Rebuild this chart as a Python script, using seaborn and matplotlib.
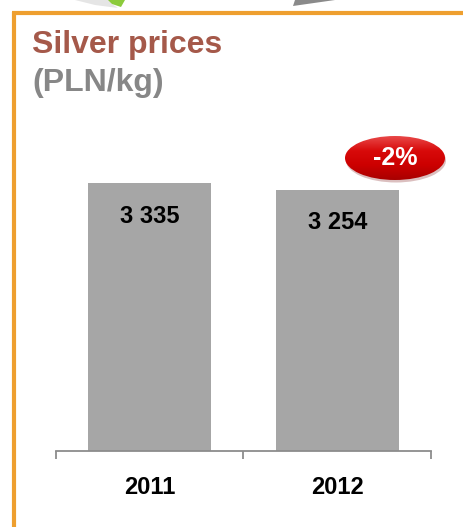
import numpy as np
import pandas as pd
import matplotlib
matplotlib.use("Agg")
import matplotlib.pyplot as plt
import seaborn as sns
from matplotlib.patches import Ellipse, Polygon
from matplotlib.lines import Line2D

# Data
years = ["2011", "2012"]
prices = [3335, 3254]
change_label = "-2%"
value_labels = ["3 335", "3 254"]

sns.set_theme(style="white")
plt.rcParams["font.family"] = ["Liberation Sans", "DejaVu Sans"]

W, H = 464, 527
fig = plt.figure(figsize=(W / 100, H / 100), dpi=100)
fig.patch.set_facecolor("white")

def fx(px):
    return px / W

def fy(py):
    return 1 - py / H

# Orange panel frame
orange = "#EE9F2F"
fig.add_artist(Line2D([fx(12), 1], [fy(13), fy(13)], color=orange, lw=3, solid_capstyle="butt"))
fig.add_artist(Line2D([fx(14), fx(14)], [fy(11.5), 0], color=orange, lw=3, solid_capstyle="butt"))

# Fragments of decorative arrows above the panel
fig.add_artist(Polygon([[fx(75), fy(0)], [fx(110), fy(0)], [fx(112), fy(4)], [fx(118), fy(8)], [fx(95), fy(5)]],
                       closed=True, facecolor="#DADADA", edgecolor="none", alpha=0.7))
fig.add_artist(Polygon([[fx(108), fy(0)], [fx(125), fy(0)], [fx(121), fy(7)], [fx(112), fy(4)]],
                       closed=True, facecolor="#8CCB3C", edgecolor="none"))
fig.add_artist(Polygon([[fx(295), fy(0)], [fx(335), fy(0)], [fx(300), fy(5)], [fx(293), fy(6)]],
                       closed=True, facecolor="#8A8A8A", edgecolor="none"))

# Title
fig.text(fx(32), fy(53), "Silver prices", color="#A5594A", fontsize=23,
         fontweight="bold", ha="left", va="baseline")
fig.text(fx(32), fy(91), "(PLN/kg)", color="#878787", fontsize=23,
         fontweight="bold", ha="left", va="baseline")

# Bar chart
ax = fig.add_axes([fx(56), fy(451), fx(431) - fx(56), fy(120) - fy(451)])
df = pd.DataFrame({"year": years, "price": prices})
sns.barplot(data=df, x="year", y="price", order=years, color="#A6A6A6",
            width=0.656, saturation=1, ax=ax, edgecolor="none")
ax.set_xlim(-0.5, 1.5)
ax.set_ylim(0, 4120)
ax.set_facecolor("none")
for s in ["top", "right", "left"]:
    ax.spines[s].set_visible(False)
ax.spines["bottom"].set_color("#8C8C8C")
ax.spines["bottom"].set_linewidth(1.3)
ax.set_yticks([])
ax.set_xlabel("")
ax.set_ylabel("")

# Category boundary ticks and centered year labels
ax.set_xticks([-0.5, 0.5, 1.5])
ax.set_xticklabels(["", "", ""])
ax.set_xticks([0, 1], minor=True)
ax.set_xticklabels(years, minor=True)
ax.tick_params(axis="x", which="major", direction="out", length=5.5, width=1.3,
               color="#8C8C8C", bottom=True)
ax.tick_params(axis="x", which="minor", length=0, pad=18, labelsize=17,
               labelcolor="black")
for lab in ax.get_xticklabels(minor=True):
    lab.set_fontweight("bold")

# Value labels inside the bars
for i, (v, lab) in enumerate(zip(prices, value_labels)):
    ax.annotate(lab, xy=(i, v), xytext=(0, -24), textcoords="offset points",
                ha="center", va="center", fontsize=17, fontweight="bold", color="black")

# Red badge with the year-on-year change, on a full-figure overlay in pixel units
ov = fig.add_axes([0, 0, 1, 1], zorder=5)
ov.set_xlim(0, W)
ov.set_ylim(H, 0)
ov.axis("off")
ov.patch.set_alpha(0)
cx, cy, ew, eh = 395, 158, 100, 44
ov.add_patch(Ellipse((cx + 1, cy + 2.5), ew, eh, facecolor="#700000", alpha=0.25,
                     edgecolor="none", zorder=1))
badge = Ellipse((cx, cy), ew, eh, facecolor="none", edgecolor="none", zorder=2)
ov.add_patch(badge)
grad = np.linspace(0, 1, 100).reshape(-1, 1)
cmap = matplotlib.colors.LinearSegmentedColormap.from_list(
    "badge", ["#E84848", "#D80A0A", "#CC0000", "#A80000"])
img = ov.imshow(grad, extent=[cx - ew / 2, cx + ew / 2, cy + eh / 2, cy - eh / 2],
                cmap=cmap, aspect="auto", zorder=2, interpolation="bilinear")
img.set_clip_path(badge)
ov.set_xlim(0, W)
ov.set_ylim(H, 0)
ov.text(cx, cy, change_label, ha="center", va="center", fontsize=18,
        fontweight="bold", color="white", zorder=3)

fig.savefig("out.png", dpi=100, facecolor="white")
